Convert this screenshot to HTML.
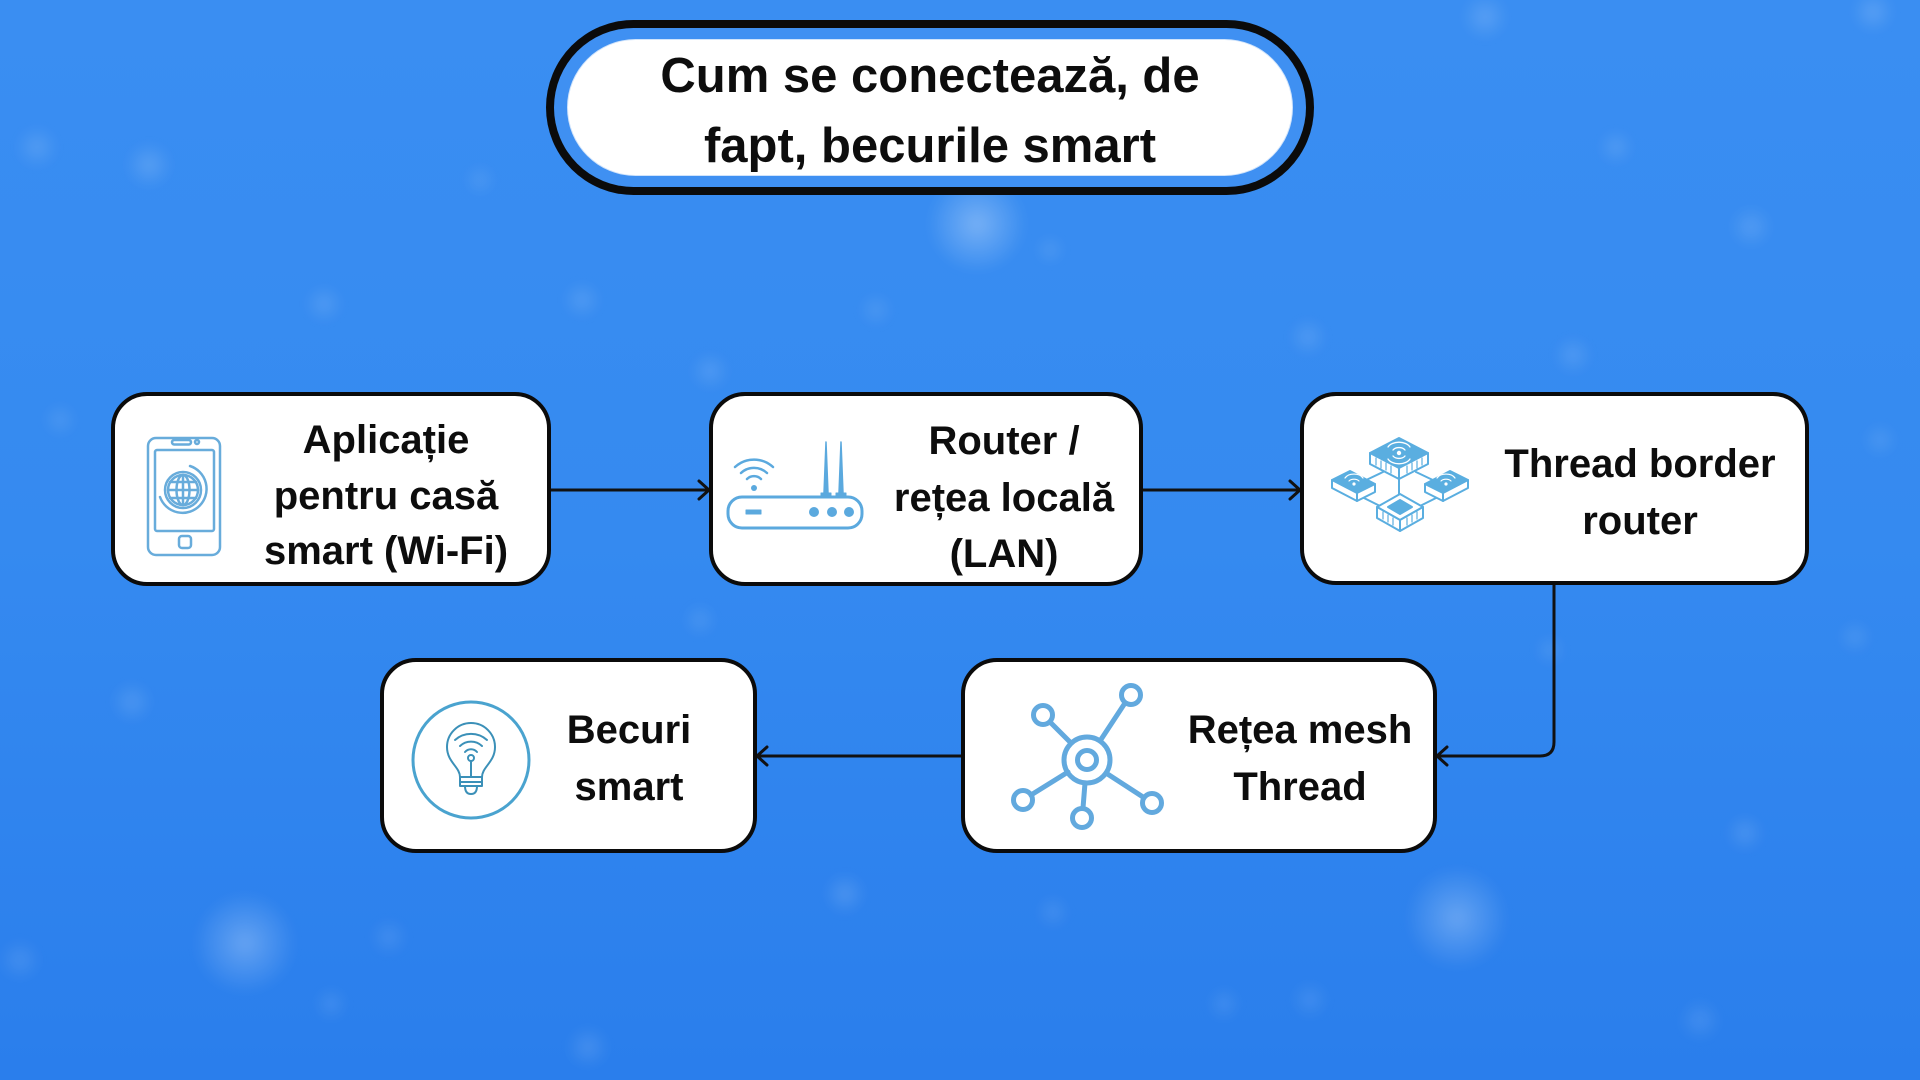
<!DOCTYPE html>
<html>
<head>
<meta charset="utf-8">
<style>
  html,body{margin:0;padding:0;width:1920px;height:1080px;overflow:hidden;background:#3388ee;}
  svg{display:block;}
  .t{font-family:"Liberation Sans","DejaVu Sans",sans-serif;font-weight:700;fill:#0d0d0d;text-anchor:middle;}
</style>
</head>
<body>
<svg width="1920" height="1080" viewBox="0 0 1920 1080" xmlns="http://www.w3.org/2000/svg">
  <defs>
    <linearGradient id="bg" x1="0" y1="0" x2="0" y2="1">
      <stop offset="0" stop-color="#3a8ef2"/>
      <stop offset="0.5" stop-color="#358af0"/>
      <stop offset="1" stop-color="#2a7eec"/>
    </linearGradient>
    <radialGradient id="bk">
      <stop offset="0" stop-color="#ffffff" stop-opacity="0.45"/>
      <stop offset="0.5" stop-color="#ffffff" stop-opacity="0.22"/>
      <stop offset="1" stop-color="#ffffff" stop-opacity="0"/>
    </radialGradient>
    <filter id="soft" x="-50%" y="-50%" width="200%" height="200%">
      <feGaussianBlur stdDeviation="5"/>
    </filter>
  </defs>

  <!-- background -->
  <rect x="0" y="0" width="1920" height="1080" fill="url(#bg)"/>
  <g fill="url(#bk)" filter="url(#soft)">
    <circle cx="977" cy="224" r="50" opacity="0.7"/>
    <circle cx="245" cy="943" r="52" opacity="0.6"/>
    <circle cx="1457" cy="918" r="52" opacity="0.6"/>
    <circle cx="149" cy="165" r="24" opacity="0.35"/>
    <circle cx="37" cy="147" r="22" opacity="0.3"/>
    <circle cx="1485" cy="17" r="24" opacity="0.35"/>
    <circle cx="1751" cy="227" r="22" opacity="0.3"/>
    <circle cx="1616" cy="147" r="18" opacity="0.28"/>
    <circle cx="1873" cy="12" r="22" opacity="0.35"/>
    <circle cx="324" cy="304" r="20" opacity="0.28"/>
    <circle cx="582" cy="300" r="20" opacity="0.28"/>
    <circle cx="710" cy="371" r="20" opacity="0.28"/>
    <circle cx="1308" cy="337" r="20" opacity="0.28"/>
    <circle cx="1573" cy="355" r="20" opacity="0.28"/>
    <circle cx="876" cy="310" r="18" opacity="0.22"/>
    <circle cx="132" cy="702" r="22" opacity="0.28"/>
    <circle cx="845" cy="894" r="22" opacity="0.32"/>
    <circle cx="1745" cy="833" r="20" opacity="0.28"/>
    <circle cx="1855" cy="637" r="18" opacity="0.22"/>
    <circle cx="588" cy="1047" r="22" opacity="0.28"/>
    <circle cx="389" cy="937" r="20" opacity="0.22"/>
    <circle cx="1053" cy="912" r="18" opacity="0.22"/>
    <circle cx="1224" cy="1004" r="18" opacity="0.22"/>
    <circle cx="331" cy="1004" r="18" opacity="0.22"/>
    <circle cx="1050" cy="250" r="16" opacity="0.22"/>
    <circle cx="20" cy="960" r="22" opacity="0.25"/>
    <circle cx="1700" cy="1020" r="22" opacity="0.25"/>
    <circle cx="1310" cy="1000" r="20" opacity="0.22"/>
    <circle cx="700" cy="620" r="18" opacity="0.22"/>
    <circle cx="1550" cy="650" r="16" opacity="0.22"/>
    <circle cx="480" cy="180" r="16" opacity="0.22"/>
    <circle cx="1200" cy="140" r="16" opacity="0.22"/>
    <circle cx="60" cy="420" r="18" opacity="0.22"/>
    <circle cx="1880" cy="440" r="18" opacity="0.22"/>
  </g>

  <!-- title pill -->
  <rect x="546" y="20" width="768" height="175" rx="87.5" ry="87.5" fill="#0b0b0b"/>
  <rect x="554" y="28" width="752" height="159" rx="79.5" ry="79.5" fill="#3f90f2"/>
  <rect x="567" y="39" width="726" height="137" rx="68.5" ry="68.5" fill="#cfe3fb"/>
  <rect x="568" y="40" width="724" height="135" rx="67.5" ry="67.5" fill="#ffffff"/>
  <text class="t" x="930" y="92" font-size="49">Cum se conectează, de</text>
  <text class="t" x="930" y="162" font-size="49">fapt, becurile smart</text>

  <!-- connectors -->
  <g fill="none" stroke="#111" stroke-width="3" stroke-linecap="round" stroke-linejoin="round">
    <path d="M549 490 H709"/>
    <path d="M699 481 L709 490 L699 499"/>
    <path d="M1141 490 H1300"/>
    <path d="M1290 481 L1300 490 L1290 499"/>
    <path d="M1554 584 V742 Q1554 756 1540 756 H1437"/>
    <path d="M1447 747 L1437 756 L1447 765"/>
    <path d="M962 756 H757"/>
    <path d="M767 747 L757 756 L767 765"/>
  </g>

  <!-- boxes -->
  <g fill="#ffffff" stroke="#0b0b0b" stroke-width="4">
    <rect x="113" y="394" width="436" height="190" rx="34" ry="34"/>
    <rect x="711" y="394" width="430" height="190" rx="34" ry="34"/>
    <rect x="1302" y="394" width="505" height="189" rx="34" ry="34"/>
    <rect x="382" y="660" width="373" height="191" rx="34" ry="34"/>
    <rect x="963" y="660" width="472" height="191" rx="34" ry="34"/>
  </g>

  <!-- box texts -->
  <text class="t" x="386" y="453" font-size="40">Aplicație</text>
  <text class="t" x="386" y="509" font-size="40">pentru casă</text>
  <text class="t" x="386" y="564" font-size="40">smart (Wi-Fi)</text>

  <text class="t" x="1004" y="454" font-size="40">Router /</text>
  <text class="t" x="1004" y="511" font-size="40">rețea locală</text>
  <text class="t" x="1004" y="567" font-size="40">(LAN)</text>

  <text class="t" x="1640" y="477" font-size="40">Thread border</text>
  <text class="t" x="1640" y="534" font-size="40">router</text>

  <text class="t" x="629" y="743" font-size="40">Becuri</text>
  <text class="t" x="629" y="800" font-size="40">smart</text>

  <text class="t" x="1300" y="743" font-size="40">Rețea mesh</text>
  <text class="t" x="1300" y="800" font-size="40">Thread</text>

  <!-- phone icon -->
  <g fill="none" stroke="#68acdb" stroke-width="2.5" stroke-linecap="round" stroke-linejoin="round">
    <rect x="148" y="438" width="72" height="117" rx="8" ry="8"/>
    <rect x="155" y="450" width="59" height="81" rx="2" ry="2"/>
    <rect x="172" y="440" width="19" height="4.5" rx="2.2" ry="2.2"/>
    <circle cx="197" cy="442" r="2"/>
    <rect x="179" y="536" width="12" height="12" rx="3" ry="3"/>
    <circle cx="183" cy="490" r="18"/>
    <circle cx="183" cy="490" r="15"/>
    <ellipse cx="183" cy="490" rx="6.5" ry="15"/>
    <line x1="183" y1="475" x2="183" y2="505"/>
    <line x1="168" y1="490" x2="198" y2="490"/>
    <path d="M170 482 H196 M170 498 H196"/>
    <path d="M190 466 A24 24 0 1 1 160 497"/>
  </g>

  <!-- router icon -->
  <g stroke="#5ba9de" stroke-width="3" stroke-linecap="round" stroke-linejoin="round">
    <rect x="728" y="497" width="134" height="31" rx="14" ry="14" fill="none"/>
    <path d="M824 493 L826 442 L828 493 Z" fill="#5ba9de" stroke-width="1.5"/>
    <path d="M839 493 L841 442 L843 493 Z" fill="#5ba9de" stroke-width="1.5"/>
    <rect x="821" y="493" width="10" height="4" fill="#5ba9de" stroke-width="1"/>
    <rect x="836" y="493" width="10" height="4" fill="#5ba9de" stroke-width="1"/>
    <rect x="746" y="510" width="15" height="4" fill="#5ba9de" stroke-width="1"/>
    <circle cx="814" cy="512" r="5" fill="#5ba9de" stroke="none"/>
    <circle cx="832" cy="512" r="5" fill="#5ba9de" stroke="none"/>
    <circle cx="849" cy="512" r="5" fill="#5ba9de" stroke="none"/>
    <circle cx="754" cy="488" r="3" fill="#5ba9de" stroke="none"/>
    <path d="M747 479 A10 10 0 0 1 761 479" fill="none" stroke-width="2.5"/>
    <path d="M741 473 A19 19 0 0 1 767 473" fill="none" stroke-width="2.5"/>
    <path d="M735 467 A28 28 0 0 1 773 467" fill="none" stroke-width="2.5"/>
  </g>

  <!-- thread border router icon -->
  <g stroke="#5aaee0" stroke-width="2" stroke-linejoin="round" stroke-linecap="round">
    <path d="M1399 478 V494 M1383 472 L1362 482 M1416 472 L1437 482 M1362 497 L1380 506 M1438 497 L1420 506" fill="none"/>
    <polygon points="1370,453 1399,438 1428,453 1399,468" fill="#5aaee0"/>
    <polygon points="1370,453 1399,468 1399,479 1370,464" fill="#ffffff"/>
    <polygon points="1399,468 1428,453 1428,464 1399,479" fill="#ffffff"/>
    <path d="M1376 458 V465 M1381 461 V468 M1386 463 V470 M1391 466 V473 M1407 466 V473 M1412 463 V470 M1417 461 V468 M1422 458 V465" fill="none" stroke-width="1.2"/>
    <circle cx="1399" cy="453" r="2.2" fill="#ffffff" stroke="none"/>
    <path d="M1393 450 A7 5 0 0 1 1405 450 M1388 447 A12 8 0 0 1 1410 447 M1393 456 A7 5 0 0 0 1405 456 M1388 459 A12 8 0 0 0 1410 459" fill="none" stroke="#ffffff" stroke-width="1.3"/>
    <polygon points="1332,480 1350,471 1375,484 1357,493" fill="#5aaee0"/>
    <polygon points="1332,480 1357,493 1357,501 1332,488" fill="#ffffff"/>
    <polygon points="1357,493 1375,484 1375,492 1357,501" fill="#ffffff"/>
    <circle cx="1354" cy="484" r="1.6" fill="#ffffff" stroke="none"/>
    <path d="M1349 481 A6 4 0 0 1 1359 481 M1345 478 A10 7 0 0 1 1363 478" fill="none" stroke="#ffffff" stroke-width="1.2"/>
    <polygon points="1468,480 1450,471 1425,484 1443,493" fill="#5aaee0"/>
    <polygon points="1468,480 1443,493 1443,501 1468,488" fill="#ffffff"/>
    <polygon points="1443,493 1425,484 1425,492 1443,501" fill="#ffffff"/>
    <circle cx="1446" cy="484" r="1.6" fill="#ffffff" stroke="none"/>
    <path d="M1441 481 A6 4 0 0 1 1451 481 M1437 478 A10 7 0 0 1 1455 478" fill="none" stroke="#ffffff" stroke-width="1.2"/>
    <polygon points="1377,507 1400,494 1423,507 1400,520" fill="#ffffff"/>
    <polygon points="1388,507 1400,500 1412,507 1400,514" fill="#5aaee0"/>
    <polygon points="1377,507 1400,520 1400,531 1377,518" fill="#ffffff"/>
    <polygon points="1400,520 1423,507 1423,518 1400,531" fill="#ffffff"/>
    <path d="M1383 512 V519 M1388 515 V522 M1393 518 V525 M1407 518 V525 M1412 515 V522 M1417 512 V519" fill="none" stroke-width="1.2"/>
  </g>

  <!-- bulb icon -->
  <circle cx="471" cy="760" r="58" fill="none" stroke="#4aa3cf" stroke-width="3"/>
  <g fill="none" stroke="#3b90b8" stroke-width="2" stroke-linecap="round" stroke-linejoin="round">
    <path d="M460 777 C460 767 447 762 447 747 A24 24 0 1 1 495 747 C495 762 482 767 482 777 Z"/>
    <path d="M460 777 V786 H482 V777 M460 782 H482"/>
    <path d="M465 786 Q465 794 471 794 Q477 794 477 786"/>
    <circle cx="471" cy="758" r="3"/>
    <line x1="471" y1="761" x2="471" y2="777"/>
    <path d="M465 752 A8 8 0 0 1 477 752"/>
    <path d="M460 746 A16 16 0 0 1 482 746"/>
    <path d="M455 740 A24 24 0 0 1 487 740"/>
  </g>

  <!-- mesh hub icon -->
  <g fill="none" stroke="#62a9de" stroke-width="5" stroke-linecap="round">
    <circle cx="1087" cy="760" r="23"/>
    <circle cx="1087" cy="760" r="9.5"/>
    <circle cx="1131" cy="695" r="9.5"/>
    <circle cx="1043" cy="715" r="9.5"/>
    <circle cx="1023" cy="800" r="9.5"/>
    <circle cx="1082" cy="818" r="9.5"/>
    <circle cx="1152" cy="803" r="9.5"/>
    <line x1="1100" y1="741" x2="1125" y2="703"/>
    <line x1="1071" y1="743" x2="1050" y2="722"/>
    <line x1="1068" y1="772" x2="1031" y2="795"/>
    <line x1="1085" y1="783" x2="1083" y2="808"/>
    <line x1="1106" y1="773" x2="1143" y2="797"/>
  </g>
</svg>
</body>
</html>
